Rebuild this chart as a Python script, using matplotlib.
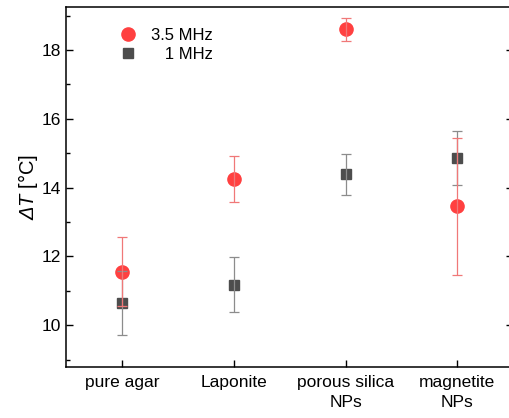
import numpy as np
import matplotlib
matplotlib.use("Agg")
import matplotlib.pyplot as plt
from matplotlib.ticker import MultipleLocator

plt.rcParams["font.family"] = ["Liberation Sans", "DejaVu Sans"]
# math only used for the italic "ΔT" in the y label
plt.rcParams["mathtext.fontset"] = "custom"
plt.rcParams["mathtext.rm"] = "Liberation Sans:italic"
plt.rcParams["mathtext.it"] = "Liberation Sans:italic"

categories = ["pure agar", "Laponite", "porous silica\nNPs", "magnetite\nNPs"]
dt_35mhz = [11.55, 14.25, 18.60, 13.45]
err_35mhz = [1.00, 0.66, 0.34, 2.00]
dt_1mhz = [10.64, 11.17, 14.38, 14.86]
err_1mhz = [0.92, 0.80, 0.60, 0.79]

x = np.arange(1, len(categories) + 1)

fig = plt.figure(figsize=(5.09, 4.18), dpi=100)
ax = fig.add_axes([0.1306, 0.121, 0.8774, 0.8615])

ax.plot(x, dt_35mhz, "o", color="#ff4040", markersize=9.5, zorder=2, label="3.5 MHz")
ax.plot(x, dt_1mhz, "s", color="#4d4d4d", markersize=7.5, zorder=2, label="   1 MHz")
ax.errorbar(x, dt_1mhz, yerr=err_1mhz, fmt="none", ecolor="#8c8c8c",
            elinewidth=0.9, capsize=3.5, capthick=0.9, zorder=3)
ax.errorbar(x, dt_35mhz, yerr=err_35mhz, fmt="none", ecolor="#f07878",
            elinewidth=0.9, capsize=3.5, capthick=0.9, zorder=4)

ax.set_xlim(0.5, 4.5)
ax.set_ylim(8.77, 19.24)
ax.set_xticks(x)
ax.set_xticklabels(categories, fontsize=12.5, linespacing=1.45)
ax.yaxis.set_major_locator(MultipleLocator(2))
ax.yaxis.set_minor_locator(MultipleLocator(1))
ax.tick_params(axis="y", which="both", direction="in", right=True, labelsize=12.5, pad=4)
ax.tick_params(axis="y", which="major", length=5, width=1)
ax.tick_params(axis="y", which="minor", length=3, width=1)
ax.tick_params(axis="x", direction="in", length=5, width=1, pad=5.5)
for s in ax.spines.values():
    s.set_linewidth(1.1)

ax.set_ylabel(r"$ΔT$ [°C]", fontsize=14.5, labelpad=1)

ax.legend(loc="upper left", bbox_to_anchor=(0.085, 0.985), frameon=False,
          fontsize=12, handletextpad=0.9, labelspacing=0.25, handlelength=1.0)

fig.savefig("out.png", dpi=100)
